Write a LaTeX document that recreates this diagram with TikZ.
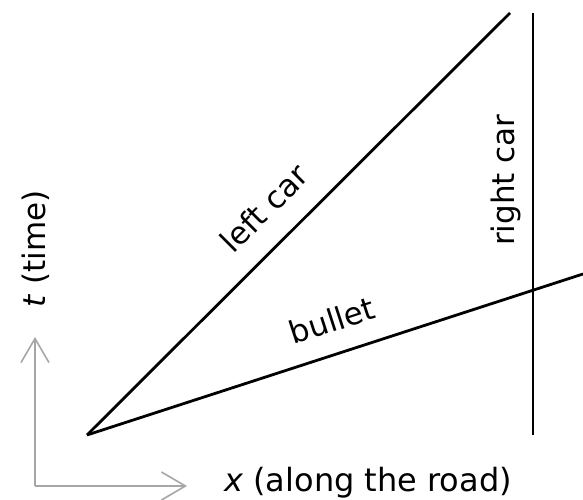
\documentclass[tikz,border=0pt]{standalone}
\usepackage{fontspec}
\setmainfont{DejaVu Sans}
\usetikzlibrary{arrows.meta}

\begin{document}
\begin{tikzpicture}[x=1pt,y=1pt,>={Straight Barb[length=24pt,width=28pt]},
  worldline/.style={line width=2.8pt,black},
  axisline/.style={line width=1.6pt,black!35,->},
  lbl/.style={font=\fontsize{31}{36}\selectfont,inner sep=0pt}]
\useasboundingbox (0,0) rectangle (583,500);
% events
\coordinate (orig) at (87,65);
\coordinate (leftend) at (510,487);
\coordinate (bulletend) at (583,226);
\coordinate (rightbot) at (533,65);
\coordinate (righttop) at (533,487);
% axes
\coordinate (axo) at (35,14);
\coordinate (axt) at (35,163);
\coordinate (axx) at (187,14);
\draw[axisline] (axo)--(axt);
\draw[axisline] (axo)--(axx);
\node[lbl,rotate=90,anchor=base] (tlab) at (45,251) {\textit{t} (time)};
\node[lbl,font=\fontsize{32}{38}\selectfont,anchor=base] (xlab) at (368,8) {\textit{x} (along the road)};
% world lines
\draw[worldline] (orig)--(leftend) node[lbl,sloped,pos=0.478,above=22pt] (leftlab) {left car};
\draw[worldline] (orig)--(bulletend) node[lbl,sloped,pos=0.515,above=20pt] (bulletlab) {bullet};
\draw[worldline] (rightbot)--(righttop) node[lbl,sloped,pos=0.604,above=11pt] (rightlab) {right car};
\end{tikzpicture}
\end{document}
